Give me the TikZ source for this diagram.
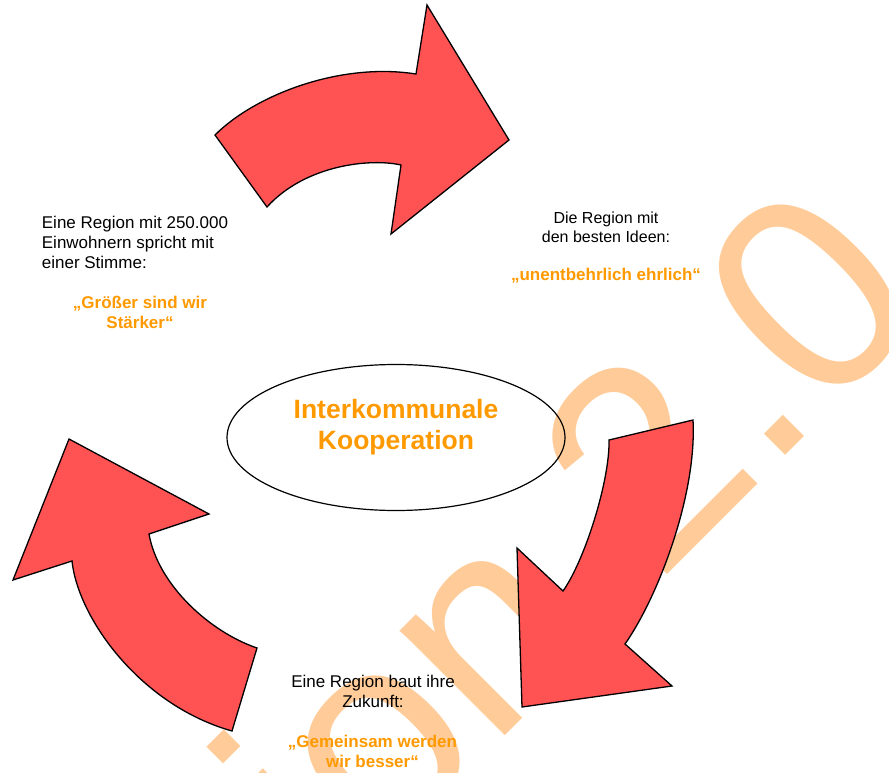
\documentclass[tikz,border=0pt]{standalone}
\usepackage{fontspec}
\setmainfont{Liberation Sans}
\usetikzlibrary{shapes.geometric,positioning}
\definecolor{arrowRed}{RGB}{255,82,82}
\definecolor{quoteOrange}{RGB}{255,153,0}
\definecolor{markPeach}{RGB}{255,204,153}

\begin{document}
\begin{tikzpicture}[
	x=1pt, y=-1pt,
	font=\fontsize{17}{20}\selectfont
	]
\tikzset{
	bigarrow/.style = { fill=arrowRed, draw=black, line width=1.3pt, line join=miter },
	plain/.style = { inner sep=0pt, align=left },
	quote/.style = { inner sep=0pt, align=center, text=quoteOrange, font=\fontsize{17}{20}\selectfont\bfseries },
	watermark/.style = { inner sep=0pt, rotate=45, text=markPeach, font=\fontsize{281}{281}\selectfont },
	center/.style = { ellipse, draw=black, line width=1.2pt, minimum width=338pt, minimum height=146pt }
}
	\useasboundingbox (0,0) rectangle (889,773);

	% watermark
	\begin{scope}
	\clip (0,0) rectangle (889,773);
	\node (mark) [watermark, anchor=base west] at (337,904.5) {ion 2.0};
	\end{scope}

	% middle
	\node (coop) [center] at (396,437.5) {};
	\node (coopLabel) [quote, anchor=base, font=\fontsize{26.5}{31}\selectfont\bfseries] at (396,449) {Interkommunale\\Kooperation};

	% arrows
	\draw [bigarrow] (215,135) .. controls (255,95) and (340,62) .. (416,74) -- (427,5) -- (509,140) -- (391,234) -- (401,165) .. controls (370,158) and (305,165) .. (267,207) -- cycle;
	\draw [bigarrow] (693,420) -- (609,440) .. controls (610,480) and (585,560) .. (563,591) -- (517,548) -- (522,707) -- (672,686) -- (625,644) .. controls (658,597) and (697,495) .. cycle;
	\draw [bigarrow] (69,439) -- (209,514) -- (149,534) .. controls (158,585) and (210,632) .. (257,648) -- (232,731) .. controls (140,705) and (78,618) .. (72,561) -- (13,580) -- cycle;

	% texts (base = last line)
	\node (leftText) [plain, anchor=base west] at (41.7,268) {Eine Region mit 250.000\\Einwohnern spricht mit\\einer Stimme:};
	\node (leftQuote) [quote, anchor=base] at (140,328) {„Größer sind wir\\Stärker“};

	\node (rightText) [plain, align=center, anchor=base, font=\fontsize{16}{18.5}\selectfont] at (606,242) {Die Region mit\\den besten Ideen:};
	\node (rightQuote) [quote, anchor=base] at (606,280) {„unentbehrlich ehrlich“};

	\node (bottomText) [plain, align=center, anchor=base] at (373,707) {Eine Region baut ihre\\Zukunft:};
	\node (bottomQuote) [quote, anchor=base] at (372.5,767) {„Gemeinsam werden\\wir besser“};

\end{tikzpicture}
\end{document}
